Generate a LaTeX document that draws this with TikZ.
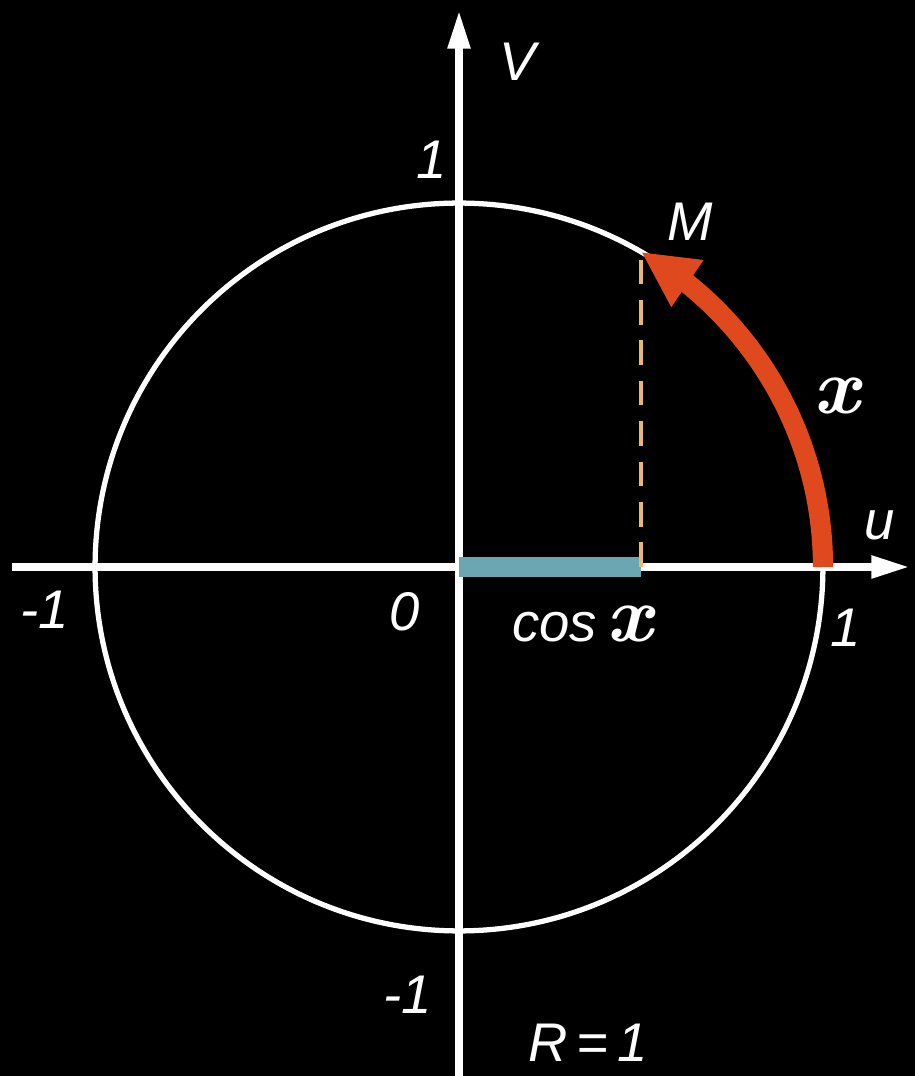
\documentclass[tikz,border=0pt]{standalone}
\usepackage{fontspec}
\setmainfont{Liberation Sans}
\newfontfamily\lmfont{Latin Modern Roman}
\usetikzlibrary{arrows.meta,bending}
\definecolor{arcred}{HTML}{E0481E}
\definecolor{barblue}{HTML}{6CA6B2}
\definecolor{dashyel}{HTML}{E9B872}
\newcommand{\curlyx}{\scalebox{1.5}[1.45]{\lmfont\bfseries\itshape x}}
\tikzset{
  axisline/.style={white,line width=4.5pt,-{Triangle[length=22pt,width=12pt]}},
  circleline/.style={white,line width=3pt},
  lbl/.style={text=white,font=\fontsize{31}{36}\selectfont\itshape,inner sep=0pt},
  redarc/.style={arcred,line width=11.5pt,-{Triangle[length=32pt,width=30pt,flex]}},
  cosbar/.style={barblue,line width=11.5pt},
  dashline/.style={dashyel,line width=2.6pt,dash pattern=on 14pt off 9pt}
}
\begin{document}
\begin{tikzpicture}[x=0.02cm,y=0.02cm]
\fill[black] (0,0) rectangle (915,1076);
\useasboundingbox (0,0) rectangle (915,1076);
\coordinate (O) at (459,509);
\coordinate (xL) at (12,509);
\coordinate (xR) at (910,509);
\coordinate (yB) at (459,0);
\coordinate (yT) at (459,1066);
\coordinate (M) at (641,824);
\coordinate (R1) at (823,509);
\coordinate (F) at (641,509);
% axes and circle
\draw[circleline] (O) circle[radius=7.28cm];
\draw[axisline] (xL) -- (xR);
\draw[axisline] (yB) -- (yT);
% cos bar and dashed line
\draw[cosbar] (O) -- (F);
\draw[dashline] (F) -- (M);
% red arc
\draw[redarc] (R1) arc[start angle=0,end angle=60,radius=7.28cm];
% labels
\node[lbl] (lV) at (518,1014) {V};
\node[lbl] (l1t) at (432,916) {1};
\node[lbl] (lM) at (690,854) {M};
\node[lbl] (lx) at (836,680) {\curlyx};
\node[lbl] (lu) at (880,551) {u};
\node[lbl] (lm1l) at (45,466) {-1};
\node[lbl] (l0) at (405,464) {0};
\node[lbl] (lcos) at (582,452) {cos\,\curlyx};
\node[lbl] (l1r) at (846,448) {1};
\node[lbl] (lm1b) at (408,81) {-1};
\node[lbl] (lR) at (588,33) {R\,=\,1};
\end{tikzpicture}
\end{document}
